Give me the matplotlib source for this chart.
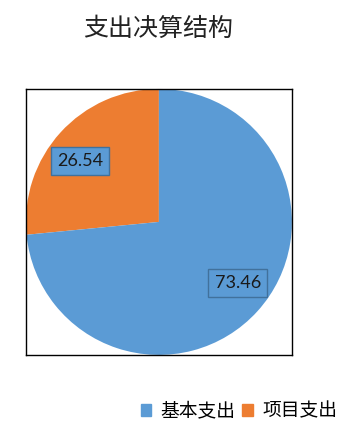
import numpy as np
import matplotlib.pyplot as plt
from matplotlib.patches import Patch

plt.rcParams['font.family'] = ['Noto Sans CJK SC', 'DejaVu Sans']

labels = ['基本支出', '项目支出']
values = [73.46, 26.54]
colors = ['#5B9BD5', '#ED7D31']

fig = plt.figure(figsize=(3.5, 4.36), dpi=100)
ax = fig.add_axes([0.074, 0.186, 0.76, 0.61])

# orange slice starts at top and runs counterclockwise
wedges, texts = ax.pie(values[::-1], colors=colors[::-1], startangle=90,
                       counterclock=True, radius=1.0, frame=True,
                       wedgeprops=dict(linewidth=0))
ax.set_frame_on(True)
ax.set_xlim(-1, 1)
ax.set_ylim(-1, 1)
ax.set_aspect('auto')
for s in ax.spines.values():
    s.set_visible(True)
    s.set_color('black')
    s.set_linewidth(1)
ax.set_xticks([])
ax.set_yticks([])

start = 90
for v in values[::-1]:
    ang = np.deg2rad(start + v * 3.6 / 2 + 4.5)
    r = 0.75
    ax.text(r * np.cos(ang), r * np.sin(ang), f'{v:.2f}', ha='center', va='center',
            fontsize=13, color='#1a1a1a', family=['Lato', 'DejaVu Sans'],
            bbox=dict(boxstyle='square,pad=0.35', facecolor='#5B9BD5',
                      edgecolor='#41719C', linewidth=1))
    start += v * 3.6

fig.text(0.452, 0.933, '支出决算结构', ha='center', va='center', fontsize=18, color='#222222')

handles = [Patch(color=c) for c in colors]
fig.legend(handles, labels, loc='center', bbox_to_anchor=(0.683, 0.057), ncol=2,
           frameon=False, fontsize=13.5, handlelength=0.55, handleheight=0.55,
           handletextpad=0.5, columnspacing=0.35)

fig.savefig('out.png', dpi=100)
